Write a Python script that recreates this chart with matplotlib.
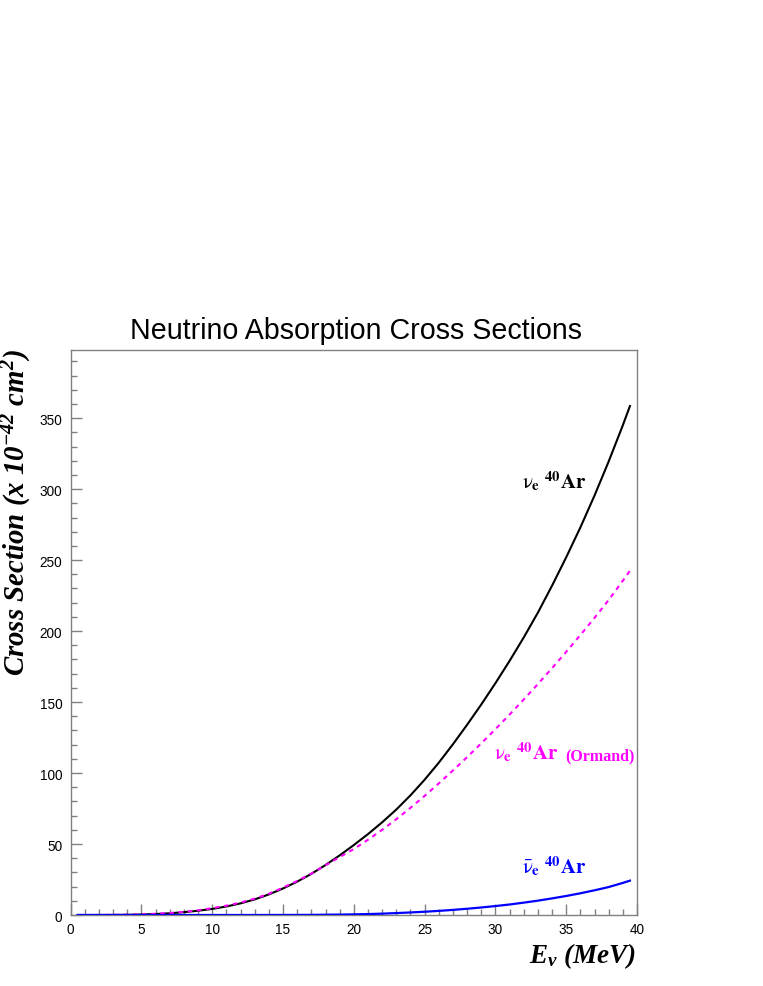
import matplotlib
matplotlib.use("Agg")
import matplotlib.pyplot as plt
from matplotlib.ticker import MultipleLocator

# ---------------- data ----------------
energy = [0.5, 1, 2, 3, 4, 5, 6, 7, 8, 9, 10, 11, 12, 13, 14, 15, 16, 17, 18, 19,
          20, 21, 22, 23, 24, 25, 26, 27, 28, 29, 30, 31, 32, 33, 34, 35, 36, 37,
          38, 39, 39.5]
nue_ar40 = [0, 0, 0.02, 0.05, 0.15, 0.35, 0.7, 1.2, 2.0, 3.0, 4.3, 6.0, 8.2, 11.0,
            14.5, 18.7, 23.5, 29.0, 35.2, 42.0, 49.3, 57.0, 65.3, 74.3, 84.3, 95.3,
            107.3, 120.3, 134.0, 148.3, 163.3, 179.0, 195.5, 213.0, 232.0, 252.0,
            273.0, 295.5, 319.5, 345.0, 358.5]
nue_ar40_ormand = [0, 0, 0.03, 0.08, 0.2, 0.45, 0.9, 1.4, 2.2, 3.3, 4.8, 6.6, 8.8,
                   11.5, 15.0, 19.3, 24.0, 29.2, 35.0, 40.8, 46.5, 53.0, 60.0, 67.5,
                   75.5, 83.9, 92.7, 101.8, 111.2, 120.9, 130.9, 141.2, 151.8, 162.7,
                   173.9, 185.4, 197.2, 209.3, 221.9, 235.5, 242.5]
nuebar_ar40 = [0, 0, 0, 0, 0, 0, 0, 0, 0, 0, 0, 0, 0, 0, 0.02, 0.03, 0.05, 0.1, 0.2,
               0.3, 0.45, 0.65, 0.95, 1.35, 1.8, 2.3, 2.9, 3.6, 4.4, 5.3, 6.3, 7.4,
               8.7, 10.1, 11.7, 13.4, 15.3, 17.4, 19.7, 22.6, 24.2]

title = "Neutrino Absorption Cross Sections"
xlim = (0, 40)
ylim = (0, 398)

# ---------------- figure ----------------
W, H = 763, 987
fig = plt.figure(figsize=(W / 100, H / 100), dpi=100)
fig.patch.set_facecolor("white")
ax = fig.add_axes([70.7 / W, 1 - 916 / H, (637 - 70.7) / W, (916 - 351) / H])

ax.plot(energy, nue_ar40, color="black", lw=1.5, zorder=3)
ax.plot(energy, nue_ar40_ormand, color="#ff00ff", lw=1.5, ls=(0, (2.2, 2.2)), zorder=3)
ax.plot(energy, nuebar_ar40, color="#0000ff", lw=1.6, zorder=3)

ax.set_xlim(*xlim)
ax.set_ylim(*ylim)

gray = "#808080"
for s in ax.spines.values():
    s.set_color(gray)
    s.set_linewidth(1.0)

ax.xaxis.set_major_locator(MultipleLocator(5))
ax.xaxis.set_minor_locator(MultipleLocator(1))
ax.yaxis.set_major_locator(MultipleLocator(50))
ax.yaxis.set_minor_locator(MultipleLocator(10))
ax.tick_params(which="both", direction="in", top=False, right=False, color=gray,
               width=1.0)
ax.tick_params(which="major", length=8)
ax.tick_params(which="minor", length=4.5)
ax.tick_params(axis="y", which="major", pad=6)
ax.tick_params(axis="x", which="major", pad=5)
for lab in ax.get_xticklabels() + ax.get_yticklabels():
    lab.set_fontfamily("Liberation Sans")
    lab.set_fontsize(9.8)

# title
fig.text(355.5 / W, 1 - 339 / H, title, ha="center", va="baseline",
         fontfamily="Liberation Sans", fontsize=20.6)

# axis labels (bold italic serif)
plt.rcParams["mathtext.fontset"] = "custom"
plt.rcParams["mathtext.rm"] = "Liberation Serif:bold:italic"
plt.rcParams["mathtext.it"] = "Liberation Serif:bold:italic"
plt.rcParams["mathtext.bf"] = "Liberation Serif:bold:italic"

fig.text(17 / W, 1 - 349 / H, r"Cross Section (x 10$^{-42}$ cm$^{2}$)",
         rotation=90, ha="center", va="top", fontfamily="Liberation Serif",
         fontweight="bold", fontstyle="italic", fontsize=20.8)
fig.text(636 / W, 1 - 963 / H, r"$E_{\nu}$ (MeV)", ha="right", va="baseline",
         fontfamily="Liberation Serif", fontweight="bold", fontstyle="italic",
         fontsize=19.5)

# curve labels
lab_kw = dict(ha="left", va="baseline", math_fontfamily="stix", fontsize=15)
nu = "\\mathrm{\u03bd}"
ax.text(31.9, 300.8, r"$%s_{\mathbf{e}}\ ^{\mathbf{40}}\mathbf{Ar}$" % nu, color="black", **lab_kw)
ax.text(29.9, 109.8, r"$%s_{\mathbf{e}}\ ^{\mathbf{40}}\mathbf{Ar}$" % nu, color="#ff00ff", **lab_kw)
ax.text(34.95, 109.8, "(Ormand)", color="#ff00ff", ha="left", va="baseline",
        fontfamily="Liberation Serif", fontweight="bold", fontsize=11.5)
ax.text(31.9, 29.7, r"$\bar{%s}_{\mathbf{e}}\ ^{\mathbf{40}}\mathbf{Ar}$" % nu, color="#0000ff", **lab_kw)

fig.savefig("out.png", dpi=100, facecolor="white")
